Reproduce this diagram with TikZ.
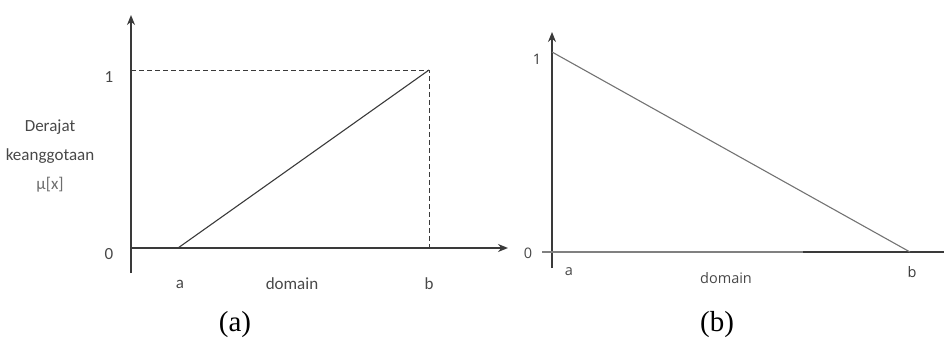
\documentclass[tikz,border=0pt]{standalone}
\usepackage{fontspec}
\setmainfont{Liberation Serif}
\newfontfamily\calibri{Carlito}
\newfontfamily\geofont{Open Sans}
\usetikzlibrary{arrows.meta, positioning}
\definecolor{inkgray}{HTML}{3A3A3A}
\definecolor{labelgray}{HTML}{484848}
\tikzset{
	axisline/.style={draw=inkgray, line width=1.7pt, -{Stealth[length=10pt, width=8pt]}},
	thinaxis/.style={draw=inkgray, line width=1.4pt, -{Stealth[length=10pt, width=8pt]}},
	curve/.style={draw=inkgray, line width=1.1pt},
	guide/.style={draw=inkgray, dashed, dash pattern=on 5pt off 3pt, line width=0.8pt},
	ticklabel/.style={font=\calibri\fontsize{17}{20}\selectfont, text=labelgray, inner sep=1pt},
	ticklabelb/.style={font=\geofont\fontsize{14.5}{17}\selectfont, text=labelgray, inner sep=1pt},
	caption/.style={font=\fontsize{29}{32}\selectfont, text=black, inner sep=0pt},
}
\begin{document}
\begin{tikzpicture}[x=1pt, y=-1pt]
	\useasboundingbox (0,0) rectangle (944,347);
	% (a) rising membership
	\coordinate (oA) at (131,248);
	\coordinate (lowA) at (131,273);
	\coordinate (topA) at (131,15);
	\coordinate (endA) at (508,248);
	\coordinate (aA) at (178,248);
	\coordinate (peakA) at (429,70);
	\coordinate (hA) at (131,70);
	\coordinate (bA) at (429,248);
	\draw[axisline] (lowA) -- (topA);
	\draw[axisline] (oA) -- (endA);
	\draw[guide] (hA) -- (peakA) -- (bA);
	\draw[curve] (aA) -- (peakA);
	\node[ticklabel] (oneA) at (109,77) {1};
	\node[ticklabel] (zeroA) at (109,254) {0};
	\node[ticklabel] (labA) at (180,284) {a};
	\node[ticklabel] (labB) at (429,284) {b};
	\node[ticklabel] (domA) at (292,284) {domain};
	\node[ticklabel, align=center, font=\calibri\fontsize{17}{29}\selectfont] (yname) at (50,156) {Derajat\\keanggotaan\\{\color{labelgray!80}μ[x]}};
	\node[caption] (capA) at (235,325) {(a)};
	% (b) falling membership
	\coordinate (oB) at (552,252);
	\coordinate (lowB) at (552,268);
	\coordinate (topB) at (552,32);
	\coordinate (leftB) at (542,252);
	\coordinate (endB) at (944,252);
	\coordinate (darkB) at (803,252);
	\coordinate (peakB) at (552,52);
	\coordinate (bB) at (910,252);
	\draw[thinaxis] (lowB) -- (topB);
	\draw[draw=gray, line width=1.1pt] (leftB) -- (endB);
	\draw[draw=inkgray, line width=1.3pt] (darkB) -- (endB);
	\draw[curve, draw=gray!90!black] (peakB) -- (bB);
	\node[ticklabelb, text=inkgray] (oneB) at (537,59) {1};
	\node[ticklabelb] (zeroB) at (528,253) {0};
	\node[ticklabelb] (labaB) at (569,272) {a};
	\node[ticklabelb, text=inkgray] (labbB) at (912,272) {b};
	\node[ticklabelb] (domB) at (726,278) {domain};
	\node[caption] (capB) at (717,325) {(b)};
\end{tikzpicture}
\end{document}
